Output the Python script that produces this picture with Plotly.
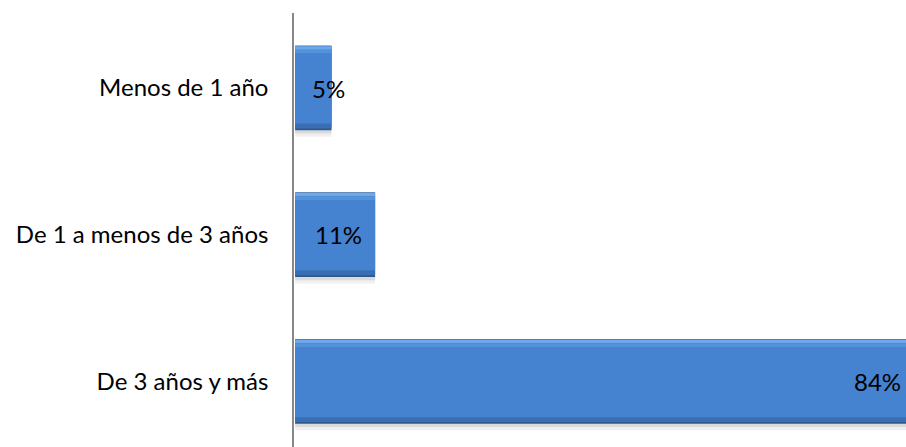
import plotly.graph_objects as go

# Antigüedad: share of respondents per category
categorias = ["Menos de 1 año", "De 1 a menos de 3 años", "De 3 años y más"]
porcentajes = [5, 11, 84]
etiquetas = ["5%", "11%", "84%"]

FONT = "Lato"
half = 0.2875  # half bar thickness, in category units

fig = go.Figure()


def add_layer(offset, width, color):
    fig.add_trace(go.Bar(
        y=categorias, x=porcentajes, orientation="h",
        offset=offset, width=width,
        marker=dict(color=color, line=dict(width=0)),
        hoverinfo="skip", showlegend=False,
    ))


# soft drop shadow under each bar
add_layer(-half + 0.045, 2 * half, "rgba(0,0,0,0.06)")
add_layer(-half + 0.022, 2 * half, "rgba(0,0,0,0.09)")
# dark bottom edge
add_layer(-half, 2 * half, "#2C5890")
# lower bevel
add_layer(-half, 2 * half - 0.012, "#3A6EB2")
# face
add_layer(-half + 0.052, 2 * half - 0.052 - 0.045, "#4582CF")
# upper bevel (two tones for a light-to-face gradient)
add_layer(-half + 0.003, 0.024, "#6DA8EA")
add_layer(-half + 0.027, 0.025, "#5592DC")

# value labels
shifts = [16, -11, -3]
for cat, val, txt, dx in zip(categorias, porcentajes, etiquetas, shifts):
    fig.add_annotation(
        x=val, y=cat, text=txt, showarrow=False,
        xanchor="right", yanchor="middle", xshift=dx,
        font=dict(family=FONT, size=24, color="#000000"),
    )

fig.update_layout(
    width=906, height=447,
    margin=dict(l=294, r=0, t=13, b=0),
    paper_bgcolor="white", plot_bgcolor="white",
    barmode="overlay",
    font=dict(family=FONT, size=24, color="#000000"),
    xaxis=dict(range=[-0.15, 84], visible=False, fixedrange=True),
    yaxis=dict(
        type="category", categoryorder="array", categoryarray=categorias,
        range=[2.446, -0.511],
        showline=True, linecolor="#888888", linewidth=1.5,
        showgrid=False, zeroline=False,
        ticks="", ticklabelstandoff=19,
        tickfont=dict(family=FONT, size=24, color="#000000"),
    ),
)

fig.write_html("out.html")
